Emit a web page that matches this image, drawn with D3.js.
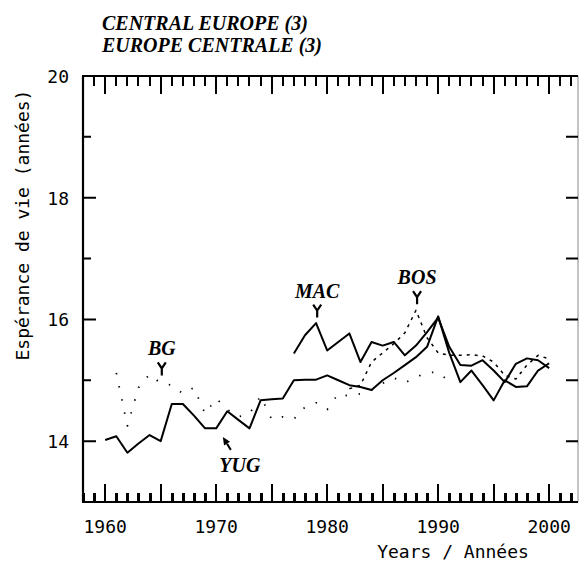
<!DOCTYPE html>
<html><head><meta charset="utf-8">
<script src="https://cdn.jsdelivr.net/npm/d3@7"></script>
<style>body{margin:0;background:#fff} svg{display:block;background:#fff}</style>
</head><body><svg id="c" width="581" height="563"></svg>
<script>
// ---------- data ----------
const titleLines = ["CENTRAL EUROPE (3)", "EUROPE CENTRALE (3)"];
const yTitle = "Espérance de vie (années)";
const xTitle = "Years / Années";
const xTickLabels = [1960, 1970, 1980, 1990, 2000];
const yTickLabels = [14, 16, 18, 20];

const yugYears = [1960,1961,1962,1963,1964,1965,1966,1967,1968,1969,1970,1971,1972,1973,1974,1975,1976,1977,1978,1979,1980,1981,1982,1983,1984,1985,1986,1987,1988,1989,1990,1991,1992,1993,1994,1995,1996,1997,1998,1999,2000];
const yugValues = [14.02,14.08,13.81,13.96,14.10,14.00,14.61,14.61,14.42,14.21,14.21,14.49,14.35,14.21,14.67,14.69,14.70,15.00,15.01,15.01,15.08,15.00,14.92,14.89,14.84,15.00,15.12,15.25,15.38,15.55,16.05,15.45,14.97,15.16,14.92,14.67,15.00,14.89,14.90,15.16,15.28];

const macYears = [1977,1978,1979,1980,1981,1982,1983,1984,1985,1986,1987,1988,1989,1990,1991,1992,1993,1994,1995,1996,1997,1998,1999,2000];
const macValues = [15.44,15.74,15.94,15.49,15.63,15.77,15.30,15.63,15.57,15.63,15.41,15.57,15.79,16.03,15.55,15.25,15.24,15.33,15.16,14.97,15.27,15.36,15.33,15.20];

const bosYears = [1982,1983,1984,1985,1986,1987,1988,1989,1990,1991,1992,1993,1994,1995,1996,1997,1998,1999,2000];
const bosValues = [14.86,14.92,15.30,15.45,15.60,15.78,16.15,15.70,15.45,15.41,15.41,15.42,15.40,15.30,15.08,15.02,15.25,15.41,15.35];

const bgYears = [1961,1962,1963,1964,1965,1966,1967,1968,1969,1970,1971,1972,1973,1974,1975,1976,1977,1978,1979,1980,1981,1982,1983,1984,1985,1986,1987,1988,1989,1990,1991];
const bgValues = [15.12,14.25,14.88,15.10,14.95,14.92,14.78,14.88,14.45,14.70,14.52,14.40,14.45,14.74,14.36,14.40,14.36,14.56,14.63,14.52,14.78,14.74,14.78,14.84,14.95,15.04,14.96,15.05,15.13,15.13,14.98];

// annotation labels and the points their arrows touch
const annotNames  = ["BG", "MAC", "BOS", "YUG"];
const annotYears  = [1965.1, 1979.1, 1988.1, 1970.6];
const annotValues = [15.08, 16.03, 16.25, 14.07];

// ---------- drawing ----------
const svg = d3.select("#c");
const x = d3.scaleLinear().domain([1958, 2002.6]).range([83, 578]);
const y = d3.scaleLinear().domain([13, 20]).range([502, 76]);
const monoFont = "'DejaVu Sans Mono', monospace";
const serifFont = "'Liberation Serif', 'Times New Roman', serif";

const allYears = d3.range(1958, 2003);
const minorYears = allYears.filter(d => d % 5 !== 0);
const majorYears = allYears.filter(d => d % 5 === 0);
const allVals = d3.range(13, 21);
const isMajorVal = d => yTickLabels.includes(d);

const [x0, x1] = x.range();
const [y0, y1] = y.range();

// frame
const frame = svg.append("g").attr("stroke", "#000").attr("fill", "none");
frame.append("line").attr("x1", x0 - 1).attr("x2", x1).attr("y1", y0).attr("y2", y0).attr("stroke-width", 2.2);
frame.append("line").attr("x1", x0 - 1).attr("x2", x1).attr("y1", y1).attr("y2", y1).attr("stroke-width", 2.2);
frame.append("line").attr("x1", x0).attr("x2", x0).attr("y1", y0).attr("y2", y1).attr("stroke-width", 2.2);
frame.append("line").attr("x1", x1).attr("x2", x1).attr("y1", y0).attr("y2", y1).attr("stroke-width", 1).attr("stroke", "#888");

// x ticks as rects (bottom pointing up, top pointing down)
const tg = svg.append("g").attr("fill", "#000");
tg.selectAll(".mb").data(minorYears).join("rect").attr("class", "mb")
  .attr("x", d => Math.round(x(d)) - 1).attr("width", 3).attr("y", y0 - 9).attr("height", 9);
tg.selectAll(".mt").data(minorYears).join("rect").attr("class", "mt")
  .attr("x", d => Math.round(x(d)) - 1).attr("width", 2).attr("y", y1).attr("height", 10);
tg.selectAll(".Mb").data(majorYears).join("rect").attr("class", "Mb")
  .attr("x", d => Math.round(x(d)) - 1).attr("width", 2).attr("y", y0 - 18).attr("height", 18);
tg.selectAll(".Mt").data(majorYears).join("rect").attr("class", "Mt")
  .attr("x", d => Math.round(x(d)) - 1).attr("width", 2).attr("y", y1).attr("height", 18);

// y ticks
svg.append("path")
  .attr("d", allVals.map(d => `M${x0},${y(d)}h${isMajorVal(d) ? 13 : 8}M${x1},${y(d)}h-12`).join(""))
  .attr("stroke", "#000").attr("stroke-width", 2).attr("fill", "none");

// tick labels
svg.selectAll(".xl").data(xTickLabels).join("text").attr("class", "xl")
  .attr("x", d => x(d)).attr("y", y0 + 31).attr("text-anchor", "middle").text(d => d)
  .attr("font-family", monoFont).attr("font-size", 18).attr("fill", "#000");
svg.selectAll(".yv").data(yTickLabels).join("text").attr("class", "yv")
  .attr("x", x0 - 14).attr("y", d => y(d) + 7).attr("text-anchor", "end").text(d => d)
  .attr("font-family", monoFont).attr("font-size", 18).attr("fill", "#000");

// lines
const line = d3.line().x(d => x(d[0])).y(d => y(d[1]));
const series = [
  {years: yugYears, values: yugValues, dash: null, w: 2},
  {years: macYears, values: macValues, dash: null, w: 2},
  {years: bosYears, values: bosValues, dash: "3,5", w: 1.5},
  {years: bgYears, values: bgValues, dash: "1.4,12", w: 1.8}
];
series.forEach(s => {
  svg.append("path")
    .attr("d", line(d3.zip(s.years, s.values)))
    .attr("fill", "none").attr("stroke", "#000").attr("stroke-width", s.w)
    .attr("stroke-linejoin", "round")
    .attr("stroke-dasharray", s.dash);
});

// titles
const titleStyle = t => t.attr("font-family", serifFont).attr("font-style", "italic")
  .attr("font-weight", "bold").attr("font-size", 20).attr("fill", "#000");
svg.append("text").attr("x", 102).attr("y", 30).text(titleLines[0]).call(titleStyle);
svg.append("text").attr("x", 102).attr("y", 52).text(titleLines[1]).call(titleStyle);

svg.append("text").attr("transform", `translate(29,225) rotate(-90)`)
  .attr("text-anchor", "middle").text(yTitle)
  .attr("font-family", monoFont).attr("font-size", 18).attr("fill", "#000");
svg.append("text").attr("x", 453).attr("y", 558).attr("text-anchor", "middle").text(xTitle)
  .attr("font-family", monoFont).attr("font-size", 18).attr("fill", "#000");

// annotations
annotNames.forEach((name, i) => {
  const tx = x(annotYears[i]), ty = y(annotValues[i]);
  const ann = svg.append("g");
  if (name === "YUG") {
    const dx = 8, dy = 13, len = Math.hypot(dx, dy), ux = dx/len, uy = dy/len;
    const hb = 8, hw = 3.5;
    const bx = tx + ux*hb, by = ty + uy*hb;
    ann.append("path").attr("d", `M${tx},${ty}L${bx - uy*hw},${by + ux*hw}L${bx + uy*hw},${by - ux*hw}Z`).attr("fill", "#000");
    ann.append("line").attr("x1", bx).attr("y1", by).attr("x2", tx+dx).attr("y2", ty+dy).attr("stroke", "#000").attr("stroke-width", 2);
    ann.append("text").attr("x", tx + 17).attr("y", ty + 35).attr("text-anchor", "middle").text(name).call(titleStyle);
  } else {
    const top = ty - 13;
    ann.append("path").attr("d", `M${tx-4},${top}L${tx},${top+6}L${tx+4},${top}M${tx},${top+5}L${tx},${ty}`)
      .attr("fill", "none").attr("stroke", "#000").attr("stroke-width", 2.2);
    ann.append("text").attr("x", tx).attr("y", top - 7).attr("text-anchor", "middle").text(name).call(titleStyle);
  }
});
</script></body></html>
